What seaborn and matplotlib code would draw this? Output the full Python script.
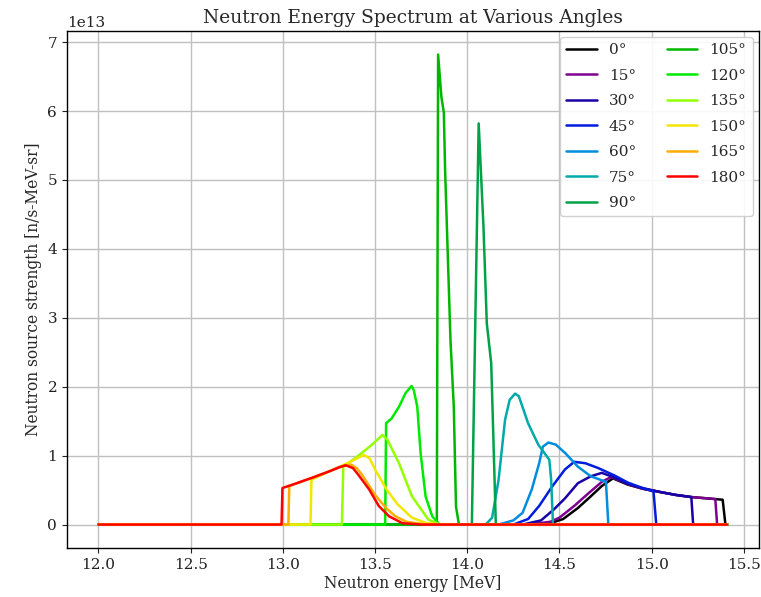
import numpy as np
import pandas as pd
import matplotlib
matplotlib.use("Agg")
import matplotlib.pyplot as plt
import seaborn as sns

# ---- data (source strength in units of 1e13 n/s-MeV-sr) ----
angles = [0, 15, 30, 45, 60, 75, 90, 105, 120, 135, 150, 165, 180]

E_0 = [12.0, 14.35, 14.45, 14.52, 14.60, 14.67, 14.73, 14.79, 14.87, 14.95, 15.05, 15.13, 15.21, 15.30, 15.385, 15.40, 15.41]
S_0 = [0, 0, 0.02, 0.08, 0.24, 0.41, 0.56, 0.67, 0.58, 0.52, 0.47, 0.43, 0.40, 0.38, 0.36, 0.0, 0]

E_15 = [12.0, 14.33, 14.45, 14.50, 14.58, 14.66, 14.73, 14.78, 14.87, 14.95, 15.05, 15.13, 15.21, 15.30, 15.345, 15.355, 15.41]
S_15 = [0, 0, 0.04, 0.10, 0.27, 0.46, 0.62, 0.69, 0.59, 0.52, 0.47, 0.43, 0.40, 0.38, 0.37, 0, 0]

E_30 = [12.0, 14.30, 14.40, 14.47, 14.53, 14.60, 14.67, 14.73, 14.80, 14.87, 14.95, 15.05, 15.13, 15.215, 15.225, 15.41]
S_30 = [0, 0, 0.06, 0.22, 0.38, 0.60, 0.70, 0.75, 0.68, 0.59, 0.53, 0.47, 0.43, 0.40, 0, 0]

E_45 = [12.0, 14.25, 14.33, 14.39, 14.46, 14.53, 14.58, 14.64, 14.71, 14.80, 14.87, 14.95, 15.01, 15.025, 15.41]
S_45 = [0, 0, 0.08, 0.27, 0.55, 0.80, 0.91, 0.89, 0.82, 0.71, 0.61, 0.53, 0.48, 0, 0]

E_60 = [12.0, 14.17, 14.25, 14.30, 14.35, 14.39, 14.41, 14.44, 14.48, 14.53, 14.60, 14.67, 14.752, 14.765, 15.41]
S_60 = [0, 0, 0.06, 0.17, 0.51, 0.89, 1.13, 1.19, 1.16, 1.04, 0.84, 0.70, 0.62, 0, 0]

E_75 = [12.0, 14.10, 14.135, 14.17, 14.205, 14.23, 14.26, 14.28, 14.33, 14.385, 14.445, 14.455, 14.465, 15.41]
S_75 = [0, 0, 0.10, 0.65, 1.52, 1.81, 1.90, 1.86, 1.47, 1.16, 0.94, 0.65, 0, 0]

E_90 = [12.0, 14.025, 14.062, 14.088, 14.106, 14.13, 14.142, 14.155, 15.41]
S_90 = [0, 0, 5.82, 4.32, 2.92, 2.34, 1.23, 0, 0]

E_105 = [12.0, 13.835, 13.842, 13.86, 13.873, 13.88, 13.909, 13.927, 13.939, 13.955, 15.41]
S_105 = [0, 0, 6.82, 6.20, 5.98, 5.14, 2.68, 1.71, 0.26, 0, 0]

E_120 = [12.0, 13.555, 13.56, 13.59, 13.63, 13.666, 13.698, 13.71, 13.729, 13.747, 13.774, 13.81, 13.85, 15.41]
S_120 = [0, 0, 1.47, 1.54, 1.71, 1.91, 2.01, 1.95, 1.71, 1.04, 0.41, 0.12, 0, 0]

E_135 = [12.0, 13.32, 13.328, 13.40, 13.48, 13.54, 13.567, 13.63, 13.70, 13.79, 13.85, 15.41]
S_135 = [0, 0, 0.84, 0.98, 1.15, 1.30, 1.23, 0.89, 0.41, 0.07, 0, 0]

E_150 = [12.0, 13.15, 13.155, 13.25, 13.35, 13.44, 13.47, 13.50, 13.56, 13.62, 13.70, 13.78, 13.88, 15.41]
S_150 = [0, 0, 0.65, 0.77, 0.89, 1.01, 0.96, 0.80, 0.52, 0.30, 0.10, 0.02, 0, 0]

E_165 = [12.0, 13.03, 13.035, 13.16, 13.25, 13.31, 13.37, 13.40, 13.43, 13.50, 13.56, 13.61, 13.67, 13.78, 15.41]
S_165 = [0, 0, 0.56, 0.68, 0.77, 0.84, 0.87, 0.82, 0.72, 0.43, 0.24, 0.12, 0.04, 0, 0]

E_180 = [12.0, 12.993, 12.998, 13.054, 13.16, 13.25, 13.306, 13.34, 13.38, 13.41, 13.468, 13.52, 13.576, 13.648, 13.75, 15.41]
S_180 = [0, 0, 0.53, 0.58, 0.68, 0.77, 0.83, 0.86, 0.82, 0.72, 0.51, 0.27, 0.12, 0.02, 0, 0]

energies = [E_0, E_15, E_30, E_45, E_60, E_75, E_90, E_105, E_120, E_135, E_150, E_165, E_180]
strengths = [S_0, S_15, S_30, S_45, S_60, S_75, S_90, S_105, S_120, S_135, S_150, S_165, S_180]
scale = 1e13

# ---- plot ----
sns.set_style("ticks")
plt.rcParams["font.family"] = ["DejaVu Serif"]

fig = plt.figure(figsize=(7.61, 5.97), dpi=100)
ax = fig.add_axes([0.088, 0.082, 0.909, 0.866])

colors = plt.cm.nipy_spectral(np.linspace(0, 0.85, len(angles)))

for ang, E, S, c in zip(angles, energies, strengths, colors):
    df = pd.DataFrame({"E": E, "S": np.array(S) * scale})
    sns.lineplot(data=df, x="E", y="S", color=c, label=f"{ang}°",
                 estimator=None, sort=False, linewidth=1.8, ax=ax)

ax.set_xticks([12.0, 12.5, 13.0, 13.5, 14.0, 14.5, 15.0, 15.5])
ax.grid(True, color="#c0c0c0", linewidth=1.0)
ax.set_axisbelow(True)
for s in ax.spines.values():
    s.set_color("black")
    s.set_linewidth(1.0)
ax.tick_params(labelsize=11, colors="#222222")
ax.yaxis.get_offset_text().set_fontsize(11)
ax.set_xlabel("Neutron energy [MeV]", fontsize=11.2, labelpad=2)
ax.set_ylabel("Neutron source strength [n/s-MeV-sr]", fontsize=11.2)
ax.set_title("Neutron Energy Spectrum at Various Angles", fontsize=13.4)
ax.legend(ncol=2, loc="upper right", fontsize=11, framealpha=0.9,
          labelspacing=0.75, borderaxespad=0.4)

fig.savefig("out.png", dpi=100)
